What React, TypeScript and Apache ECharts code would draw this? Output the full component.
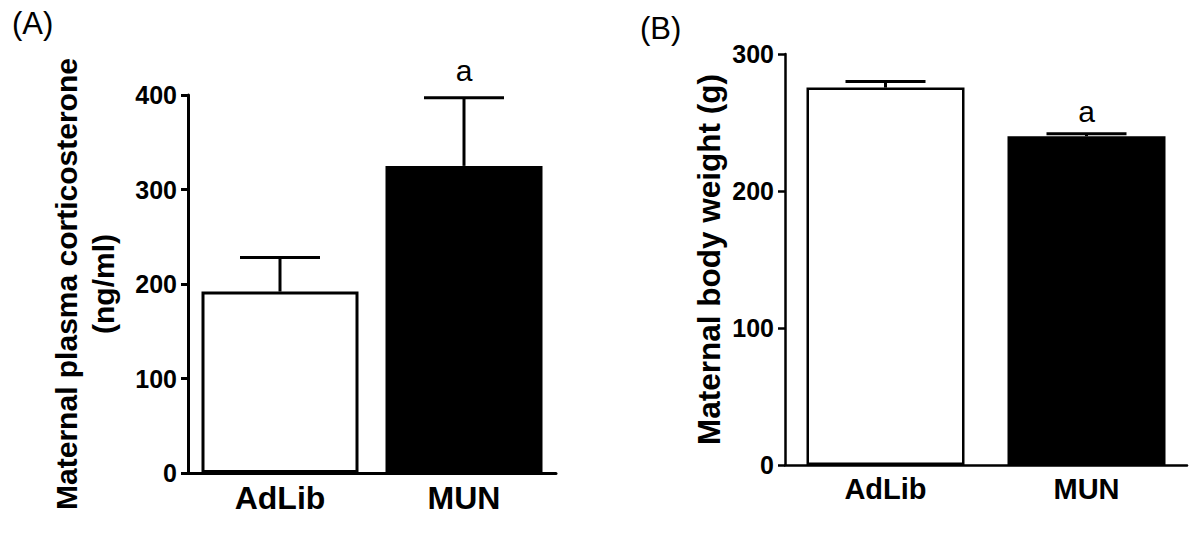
import React, { useEffect, useRef } from "react";
import * as echarts from "echarts";

const categories = ["AdLib", "MUN"];

// Panel A: maternal plasma corticosterone (ng/ml)
const corticoMean = [192, 325];
const corticoSem = [36, 72];
const corticoSig = ["", "a"];
const corticoMax = 400;
const corticoInterval = 100;

// Panel B: maternal body weight (g)
const weightMean = [275.5, 240];
const weightSem = [4.5, 1.8];
const weightSig = ["", "a"];
const weightMax = 300;
const weightInterval = 100;

const FONT = "'Liberation Sans', Arial, sans-serif";
const barColors = ["#ffffff", "#000000"];

function errorSeries(
  axisIndex: number,
  means: number[],
  sems: number[],
  sigs: string[],
  capHalf: number,
  lw: number,
  labelGap: number,
  labelSize: number
) {
  return {
    type: "custom",
    xAxisIndex: axisIndex,
    yAxisIndex: axisIndex,
    z: 5,
    data: means.map((m, i) => [i, m, m + sems[i]]),
    encode: { x: 0, y: [1, 2] },
    renderItem: (params: any, api: any) => {
      const x = api.value(0);
      const base = api.coord([x, api.value(1)]);
      const top = api.coord([x, api.value(2)]);
      const children: any[] = [
        {
          type: "line",
          shape: { x1: base[0], y1: base[1], x2: top[0], y2: top[1] },
          style: { stroke: "#000", lineWidth: lw },
        },
        {
          type: "line",
          shape: { x1: top[0] - capHalf, y1: top[1], x2: top[0] + capHalf, y2: top[1] },
          style: { stroke: "#000", lineWidth: lw },
        },
      ];
      const sig = sigs[params.dataIndex];
      if (sig) {
        children.push({
          type: "text",
          x: top[0],
          y: top[1] - labelGap,
          style: {
            text: sig,
            fill: "#000",
            font: `${labelSize}px ${FONT}`,
            textAlign: "center",
            textVerticalAlign: "bottom",
          },
        });
      }
      return { type: "group", children };
    },
  };
}

function barSeries(axisIndex: number, means: number[], barWidth: number, bw: number) {
  return {
    type: "bar",
    xAxisIndex: axisIndex,
    yAxisIndex: axisIndex,
    barWidth,
    data: means.map((v, i) => ({
      value: v,
      itemStyle: { color: barColors[i], borderColor: "#000", borderWidth: bw },
    })),
  };
}

export default function App() {
  const ref = useRef<HTMLDivElement>(null);

  useEffect(() => {
    if (!ref.current) return;
    const chart = echarts.init(ref.current, undefined, { renderer: "svg" });

    const xAxisCommon = (idx: number, lw: number, size: number, margin: number) => ({
      type: "category",
      gridIndex: idx,
      data: categories,
      axisTick: { show: false },
      axisLine: { lineStyle: { color: "#000", width: lw } },
      axisLabel: {
        color: "#000",
        fontWeight: "bold",
        fontSize: size,
        fontFamily: FONT,
        margin,
      },
    });

    const yAxisCommon = (
      idx: number,
      max: number,
      interval: number,
      lw: number,
      name: string,
      nameSize: number,
      nameGap: number,
      lineHeight: number
    ) => ({
      type: "value",
      gridIndex: idx,
      min: 0,
      max,
      interval,
      splitLine: { show: false },
      axisLine: { show: true, lineStyle: { color: "#000", width: lw } },
      axisTick: { show: true, length: 7, lineStyle: { color: "#000", width: lw } },
      axisLabel: {
        color: "#000",
        fontWeight: "bold",
        fontSize: 25,
        fontFamily: FONT,
        margin: 11,
      },
      name,
      nameLocation: "middle",
      nameGap,
      nameTextStyle: {
        color: "#000",
        fontWeight: "bold",
        fontSize: nameSize,
        fontFamily: FONT,
        lineHeight,
      },
    });

    chart.setOption({
      animation: false,
      backgroundColor: "#ffffff",
      graphic: [
        {
          type: "text",
          left: 12,
          top: 8,
          style: { text: "(A)", fill: "#000", font: `31px ${FONT}` },
        },
        {
          type: "text",
          left: 640,
          top: 13,
          style: { text: "(B)", fill: "#000", font: `31px ${FONT}` },
        },
      ],
      grid: [
        { left: 188, top: 95, width: 368, height: 378 },
        { left: 785, top: 54, width: 402, height: 411 },
      ],
      xAxis: [xAxisCommon(0, 3, 32, 9), xAxisCommon(1, 2.5, 29, 9)],
      yAxis: [
        yAxisCommon(0, corticoMax, corticoInterval, 3, "Maternal plasma corticosterone\n(ng/ml)", 30, 66, 37),
        yAxisCommon(1, weightMax, weightInterval, 2.5, "Maternal body weight (g)", 31.5, 58, 36),
      ],
      series: [
        barSeries(0, corticoMean, 157, 3),
        errorSeries(0, corticoMean, corticoSem, corticoSig, 40, 3, 12, 30),
        barSeries(1, weightMean, 158, 2.5),
        errorSeries(1, weightMean, weightSem, weightSig, 40, 3, 7, 30),
      ],
    });

    return () => chart.dispose();
  }, []);

  return (
    <div
      ref={ref}
      style={{ position: "fixed", left: 0, top: 0, width: 1200, height: 535, background: "#fff" }}
    />
  );
}
